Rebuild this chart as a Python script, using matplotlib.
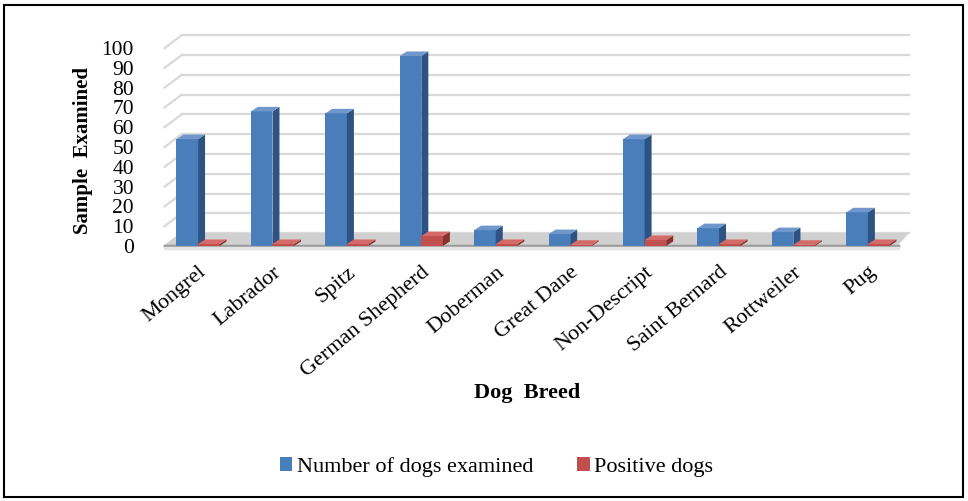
import matplotlib.pyplot as plt
from matplotlib.patches import Polygon, Rectangle, Patch

# =========================
# DATA
# =========================
breeds = ["Mongrel", "Labrador", "Spitz", "German Shepherd", "Doberman",
          "Great Dane", "Non-Descript", "Saint Bernard", "Rottweiler", "Pug"]
examined = [54, 68, 67, 96, 8, 6, 54, 9, 7, 17]
positive = [1, 1, 1, 5, 1, 0, 3, 1, 0, 1]
y_ticks = [0, 10, 20, 30, 40, 50, 60, 70, 80, 90, 100]

# =========================
# STYLE
# =========================
plt.rcParams["font.family"] = ["Liberation Serif", "DejaVu Serif"]

blue = ("#4a7ebb", "#2d5284", "#6f97cc")   # front, side, top
red = ("#c0504d", "#8c302e", "#d46b68")

bar_w = 0.29
dx, dy = 0.094, 2.3          # depth of each bar
back_dy = 6.5                # back wall offset
wall_dx = 0.23

fig = plt.figure(figsize=(9.68, 5.01), dpi=100)
ax = fig.add_axes([0.170, 0.509, 0.765, 0.395])
ax.set_xlim(-0.45, 9.5)
ax.set_ylim(0, 100)
for s in ax.spines.values():
    s.set_visible(False)

x_left, x_right = -0.45, 9.5


def draw_bar(x, h, cols, z):
    front = Rectangle((x, 0), bar_w, h, facecolor=cols[0], edgecolor="none", zorder=z)
    side = Polygon([(x + bar_w, 0), (x + bar_w + dx, dy), (x + bar_w + dx, h + dy),
                    (x + bar_w, h)], closed=True, facecolor=cols[1], edgecolor="none", zorder=z)
    top = Polygon([(x, h), (x + dx, h + dy), (x + bar_w + dx, h + dy), (x + bar_w, h)],
                  closed=True, facecolor=cols[2], edgecolor="none", zorder=z)
    for p in (front, side, top):
        p.set_clip_on(False)
        ax.add_patch(p)


# gridlines on the back wall with the slanted left wall
for v in y_ticks:
    ax.plot([x_left + wall_dx, x_right + 0.05], [v + back_dy, v + back_dy],
            color="#d9d9d9", lw=1.6, zorder=1, clip_on=False)
    ax.plot([x_left, x_left + wall_dx], [v, v + back_dy],
            color="#d9d9d9", lw=1.6, zorder=1, clip_on=False)

# floor
floor = Polygon([(x_left, 0), (x_left + wall_dx, back_dy), (x_right + 0.05, back_dy),
                 (x_right - 0.1, 0)], closed=True, facecolor="#d0d0d0",
                edgecolor="none", zorder=1, clip_on=False)
ax.add_patch(floor)
ax.plot([x_left, x_right - 0.1], [0, 0], color="#9a9a9a", lw=2.5, zorder=1, clip_on=False)
ax.plot([x_left, x_right - 0.1], [-1.2, -1.2], color="#e4e4e4", lw=2.5, zorder=1, clip_on=False)

for i in range(len(breeds)):
    draw_bar(i - bar_w, examined[i], blue, 3)
    draw_bar(i, max(positive[i], 0.6), red, 4)

ax.set_yticks(y_ticks)
ax.set_yticklabels([str(v) for v in y_ticks], fontsize=15.5)
ax.tick_params(axis="y", length=0, pad=22)
ax.set_xticks(range(len(breeds)))
ax.set_xticklabels(breeds, fontsize=16, rotation=40, ha="right",
                   rotation_mode="anchor")
ax.tick_params(axis="x", length=0, pad=12)

fig.text(0.086, 0.70, "Sample  Examined", rotation=90, fontsize=15,
         fontweight="bold", ha="center", va="center")
fig.text(0.545, 0.215, "Dog  Breed", fontsize=16, fontweight="bold",
         ha="center", va="center")

handles = [Patch(facecolor=blue[0], label="Number of dogs examined"),
           Patch(facecolor=red[0], label="Positive dogs")]
fig.legend(handles=handles, loc="center", bbox_to_anchor=(0.513, 0.068), ncol=2,
           frameon=False, fontsize=16, handlelength=0.55, handleheight=0.55,
           handletextpad=0.2, columnspacing=2.0)

# outer frame
fig.add_artist(Rectangle((0.004, 0.008), 0.991, 0.982, transform=fig.transFigure,
                         fill=False, edgecolor="black", lw=1.5))

fig.savefig("out.png", dpi=100)
